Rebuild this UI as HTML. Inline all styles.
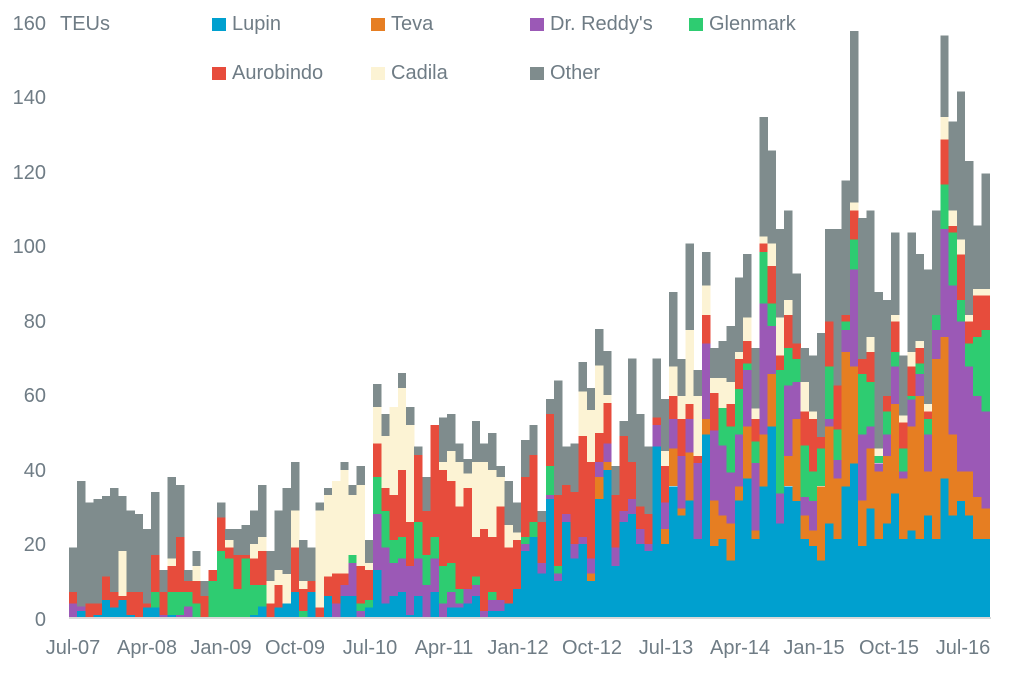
<!DOCTYPE html>
<html><head><meta charset="utf-8"><style>
html,body{margin:0;padding:0;background:#fff;}
body{width:1015px;height:675px;position:relative;overflow:hidden;font-family:"Liberation Sans",sans-serif;color:#6f7c85;}
.t{position:absolute;font-size:20px;line-height:20px;white-space:nowrap;}
.yl{position:absolute;font-size:20px;line-height:20px;width:46px;text-align:right;left:0;}
.xl{position:absolute;font-size:20px;line-height:20px;width:100px;text-align:center;top:638px;}
.sq{position:absolute;width:14px;height:13px;}
</style></head><body>
<svg id="s" width="1015" height="675" style="position:absolute;left:0;top:0" shape-rendering="crispEdges"></svg>
<div class="yl" style="top:14px">160</div>
<div class="t" style="left:60px;top:14px">TEUs</div>
<div class="yl" style="top:88px">140</div>
<div class="yl" style="top:163px">120</div>
<div class="yl" style="top:237px">100</div>
<div class="yl" style="top:312px">80</div>
<div class="yl" style="top:386px">60</div>
<div class="yl" style="top:461px">40</div>
<div class="yl" style="top:535px">20</div>
<div class="yl" style="top:610px">0</div>

<div class="sq" style="left:212px;top:18px;background:#00a0cf"></div><div class="t" style="left:232px;top:14px">Lupin</div>
<div class="sq" style="left:371px;top:18px;background:#e67e22"></div><div class="t" style="left:391px;top:14px">Teva</div>
<div class="sq" style="left:530px;top:18px;background:#9b59b6"></div><div class="t" style="left:550px;top:14px">Dr. Reddy's</div>
<div class="sq" style="left:689px;top:18px;background:#2ecc71"></div><div class="t" style="left:709px;top:14px">Glenmark</div>
<div class="sq" style="left:212px;top:67px;background:#e74c3c"></div><div class="t" style="left:232px;top:63px">Aurobindo</div>
<div class="sq" style="left:371px;top:67px;background:#fcf3d4"></div><div class="t" style="left:391px;top:63px">Cadila</div>
<div class="sq" style="left:530px;top:67px;background:#7f8c8d"></div><div class="t" style="left:550px;top:63px">Other</div>

<div class="xl" style="left:23px">Jul-07</div>
<div class="xl" style="left:97px">Apr-08</div>
<div class="xl" style="left:171px">Jan-09</div>
<div class="xl" style="left:245px">Oct-09</div>
<div class="xl" style="left:320px">Jul-10</div>
<div class="xl" style="left:394px">Apr-11</div>
<div class="xl" style="left:468px">Jan-12</div>
<div class="xl" style="left:542px">Oct-12</div>
<div class="xl" style="left:616px">Jul-13</div>
<div class="xl" style="left:690px">Apr-14</div>
<div class="xl" style="left:764px">Jan-15</div>
<div class="xl" style="left:839px">Oct-15</div>
<div class="xl" style="left:913px">Jul-16</div>
<script>
var C={L:"#00a0cf",T:"#e67e22",D:"#9b59b6",G:"#2ecc71",A:"#e74c3c",C:"#fcf3d4",O:"#7f8c8d"};
var A=[
"D1330 A1296 O1163","L1353 D1340 O963","A1330 O1028","L1365 A1330 O1017","L1320 A1250 O1008","L1343 A1296 O984",
"L1320 A1308 C1173 O1008","L1365 A1296 O1052","A1296 O1062","L1343 A1330 O1107","L1343 G1296 A1185 O996","D1365 A1296 O1230",
"L1365 G1296 A1218 C1196 O951","D1365 G1296 A1131 O975","D1340 G1296 A1263 O1230","G1330 A1263 C1218 O1173","A1308 O1263","G1263 A1230",
"G1173 A1073 O1028","G1196 A1163 C1140 O1107","G1287 A1185 O1107","G1196 A1185 O1095","L1365 G1275 A1196 C1152 O1052","L1340 G1275 A1173 C1131 O975",
"A1330 C1263 O1173","L1343 A1275 C1230 O1052","L1330 C1242 O984","L1296 A1163 C1052 O906","G1353 A1287 C1263 O1140","L1296 A1263 O1163",
"A1343 C1052 O1028","L1308 A1250 C1005 O984","D1330 A1241 C963","L1308 D1275 A1241 C930 O906","L1308 D1209 G1185 C1005 O975","D1353 G1330 A1218 C975 O918",
"L1343 G1320 A1230 C1209 O1140",
"L1230 D1062 G951 A851 C741 O672","L1330 D1163 G1053 A984 C828 O762","L1308 D1209 G1140 A1005 C741","L1296 D1196 G1131 A930 C684 O639",
"L1365 D1218 A1086 C795 O741","L1308 D1196 G1086 A885 O860","D1275 G1185 A1053 O951","L1296 D1196 G1131 A795",
"D1330 G1218 A930 C906 O773","L1343 D1296 G1209 A963 C873 O762","L1343 D1330 G1287 A1040 C906 O851","L1330 D1287 A984 C940 O897",
"L1308 D1275 G1250 A1131 C906 O783","D1353 A1107 C906 O851","L1353 D1320 G1296 A1131 C930 O819","L1353 D1320 A1040 C951 O918",
"L1330 A1163 C1095 O963","L1287 A1140 C1118 O1028","L1173 D1152 G1131 A951 O840","L1131 G1086 A885 O795","L1241 D1209 A1086 O1053",
"L1017 D1005 G918 A762 O717","L1263 D1241 G1218 A1005 O662","L1086 D1062 A975 O860","L1196 D1152 A996 O851","L1152 D1131 A828 C695 O606",
"L1263 T1241 D1196 A906 C750 O684","L1017 T951 D906 A819 C617 O507","L930 T906 D851 A729 C705 O573","L1218 D1163 A1005 O918",
"L1086 D1053 A828 O783","L1062 D1017 A906 O595","L1152 D1107 A1040 O762","L1173 D1152 A1062 O860","L860 D795 A773 O595","L1152 T1107 D1028 A918 C873 O717"
];
var B=[
"L1195 T1098 D1023 A964 C888 O697","L1270 T1252 D1117 A1023 C964 O869","L1232 T1108 D1023 A984 C794 O573","L1330 D1135 A1117 C964 O897",
"L1062 T1023 D829 A756 C680 O594","L1348 T1232 D1052 A956 C918 O841","L1330 T1270 D1090 G995 C918 O823","L1385 T1290 D1160 G1042 A984 C928 O784",
"L1232 T1195 D1062 G946 A869 C851 O660","L1175 T1042 D897 G880 A823 C763 O600","L1330 T1308 D1135 G1080 A1023 C995 O841","L1195 T1062 D727 G594 A573 C555 O249",
"L1042 T907 D784 G727 A630 C573 O335","L1290 D1213 G897 A860 C762 O535","L1195 T1117 D936 G841 A756 C717 O488","L1232 T1023 D928 G869 A829 O650",
"L1330 T1270 D1223 G1090 A1003 C928 O841","L1348 T1308 D1232 G1157 A1023 C1003 O860","L1385 T1195 G1098 A1069 O802","L1290 T1042 D1023 G888 A773 O535",
"L1330 T1175 D1128 G1050 A936 O535","L1195 T851 D794 G773 A756 O411","L1136 T888 D640 G563 A488 C468 O28","L1348 T1232 D1062 G907 A869 O507",
"L1252 T1098 D1042 G928 A851 C812 O488","L1330 T1157 D1136 G1117 C1098 O697","L1290 T1117 D1062 G1003 A964 O717","L1213 T984 D888 G851 A773 C756 O545",
"L1330 T1175 D1157 G1098 A1031 C1013 O860","L1308 T1042 D973 G964 A888 C851 O545","L1330 T964 D907 G880 A841 C823 O600","L1270 T1157 D1062 G1023 A1003 C984 O640",
"L1330 T869 D794 G756 O488","L1175 T812 D535 G422 A306 C249 O40","L1270 T1062 D680 G545 A528 C488 O260","L1232 T1157 D773 G717 A601 C563 O183",
"L1270 T1157 D888 G829 A773 C756 O362","L1330 T1223 D964 G812 A706 C689 O527","L1330 T1252 D1003 G794 A706 C689 O393"
];
var s=document.getElementById("s"),h="";
function bar(i,str,f){var x=69+i*8.22,prev=617;str.split(" ").forEach(function(p){var k=p[0],y=f(+p.slice(1));
h+='<rect x="'+x.toFixed(2)+'" y="'+y.toFixed(1)+'" width="8.4" height="'+(prev-y).toFixed(1)+'" fill="'+C[k]+'"/>';prev=y;});}
A.forEach(function(str,i){bar(i,str,function(z){return 160+z/3;});});
B.forEach(function(str,i){bar(73+i,str,function(z){return 617-(1530-z)*0.3902;});});
h+='<rect x="69" y="617" width="922" height="2" fill="#d9d9d9"/>';
s.innerHTML=h;
</script>
</body></html>
